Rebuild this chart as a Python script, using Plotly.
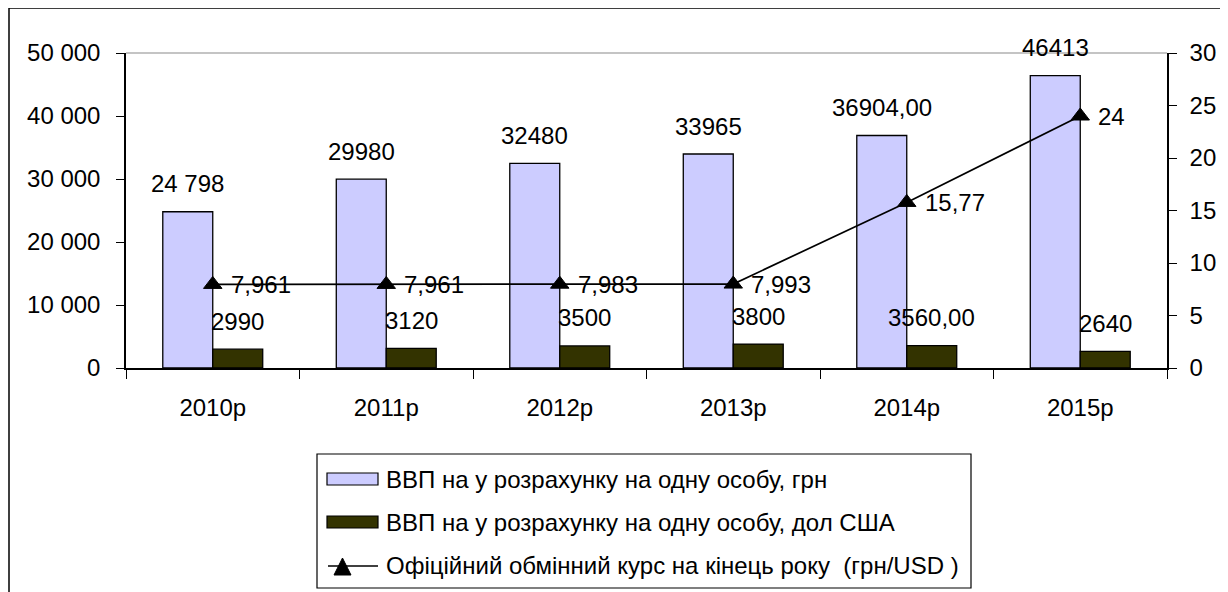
import plotly.graph_objects as go

# ---- data ----
categories = ["2010р", "2011р", "2012р", "2013р", "2014р", "2015р"]
gdp_uah = [24798, 29980, 32480, 33965, 36904, 46413]
gdp_usd = [2990, 3120, 3500, 3800, 3560, 2640]
exchange_rate = [7.961, 7.961, 7.983, 7.993, 15.77, 24]

gdp_uah_labels = ["24 798", "29980", "32480", "33965", "36904,00", "46413"]
gdp_usd_labels = ["2990", "3120", "3500", "3800", "3560,00", "2640"]
rate_labels = ["7,961", "7,961", "7,983", "7,993", "15,77", "24"]

name_uah = "ВВП на у розрахунку на одну особу, грн"
name_usd = "ВВП на у розрахунку на одну особу, дол США"
name_rate = "Офіційний обмінний курс на кінець року  (грн/USD )"

# ---- layout geometry (page pixels; the page body adds an 8px offset) ----
W, H = 1228, 592
OFF = 8
L, R, T, B = 126, 1167, 53, 368
FONT = "Liberation Sans, Arial, sans-serif"
FS = 24
C_UAH = "#CCCCFF"
C_USD = "#333300"
Y1_MAX, Y1_STEP = 50000, 10000
Y2_MAX, Y2_STEP = 30, 5


def px(xp):
    return (xp - L) / (R - L)


def py(yp):
    return (B - yp) / (B - T)


fig = go.Figure()
fig.add_trace(go.Bar(x=categories, y=gdp_uah, name=name_uah,
                     marker=dict(color=C_UAH, line=dict(color="black", width=1.3)),
                     showlegend=False))
fig.add_trace(go.Bar(x=categories, y=gdp_usd, name=name_usd,
                     marker=dict(color=C_USD, line=dict(color="black", width=1.3)),
                     showlegend=False))
fig.add_trace(go.Scatter(x=categories, y=exchange_rate, name=name_rate, yaxis="y2",
                         mode="lines+markers",
                         line=dict(color="black", width=1.7),
                         marker=dict(symbol="triangle-up", size=16, color="black",
                                     line=dict(color="black", width=1)),
                         showlegend=False))

annotations = []
for c, v, t in zip(categories, gdp_uah, gdp_uah_labels):
    annotations.append(dict(x=c, y=v, xref="x", yref="y", text=t, showarrow=False,
                            xshift=-25, yshift=28, yanchor="middle", xanchor="center"))
for c, v, t in zip(categories, gdp_usd, gdp_usd_labels):
    annotations.append(dict(x=c, y=v, xref="x", yref="y", text=t, showarrow=False,
                            xshift=25, yshift=28, yanchor="middle", xanchor="center"))
for c, v, t in zip(categories, exchange_rate, rate_labels):
    annotations.append(dict(x=c, y=v, xref="x", yref="y2", text=t, showarrow=False,
                            xshift=16, yshift=0, yanchor="middle", xanchor="left"))

# ---- manual legend ----
rows = [479, 522, 565]
legend_names = [name_uah, name_usd, name_rate]
for ry, nm in zip(rows, legend_names):
    annotations.append(dict(x=px(384), y=py(ry), xref="paper", yref="paper", text=nm,
                            showarrow=False, xanchor="left", yanchor="middle",
                            font=dict(family=FONT, size=FS, color="black")))

shapes = [
    # outer chart border
    dict(type="rect", xref="paper", yref="paper", x0=px(9), x1=px(1260), y0=py(8), y1=py(640),
         line=dict(color="black", width=1.5), fillcolor="rgba(0,0,0,0)", layer="below"),
    # top plot-area edge
    dict(type="line", xref="paper", yref="paper", x0=0, x1=1, y0=1, y1=1,
         line=dict(color="#8a8a8a", width=1.2)),
    # legend box
    dict(type="rect", xref="paper", yref="paper", x0=px(317), x1=px(971), y0=py(454), y1=py(588),
         line=dict(color="black", width=1.2), fillcolor="white"),
    # legend swatches
    dict(type="rect", xref="paper", yref="paper", x0=px(327), x1=px(378), y0=py(rows[0] - 6),
         y1=py(rows[0] + 6), line=dict(color="black", width=1.2), fillcolor=C_UAH),
    dict(type="rect", xref="paper", yref="paper", x0=px(327), x1=px(378), y0=py(rows[1] - 6),
         y1=py(rows[1] + 6), line=dict(color="black", width=1.2), fillcolor=C_USD),
    dict(type="line", xref="paper", yref="paper", x0=px(328), x1=px(378), y0=py(rows[2] + 1),
         y1=py(rows[2] + 1), line=dict(color="black", width=1.7)),
    dict(type="path", xref="paper", yref="paper",
         path="M %f,%f L %f,%f L %f,%f Z" % (px(334), py(rows[2] + 10), px(351), py(rows[2] + 10),
                                           px(342.5), py(rows[2] - 7)),
         fillcolor="black", line=dict(color="black", width=1)),
]

axis_common = dict(showgrid=False, zeroline=False, showline=True, linecolor="black", linewidth=1.5,
                   ticks="outside", tickcolor="black", tickwidth=1.3,
                   tickfont=dict(family=FONT, size=FS, color="black"))
# inner halves of the crossing tick marks
inner_ticks = dict(showgrid=False, zeroline=False, showline=False, ticks="inside",
                   tickcolor="black", tickwidth=1.3, ticklen=5, showticklabels=False)

fig.update_layout(
    width=W, height=H,
    margin=dict(l=L - OFF, r=W - (R - OFF), t=T - OFF, b=H - (B - OFF), pad=0),
    paper_bgcolor="white", plot_bgcolor="white",
    font=dict(family=FONT, size=FS, color="black"),
    separators=", ",
    barmode="group", bargap=0.424, bargroupgap=0,
    xaxis=dict(type="category", range=[-0.5, 5.5], tickson="boundaries", ticklen=9,
               ticklabelstandoff=17, **axis_common),
    yaxis=dict(range=[0, Y1_MAX], dtick=Y1_STEP, tickformat=",d", ticklen=8,
               ticklabelstandoff=11, **axis_common),
    yaxis2=dict(range=[0, Y2_MAX], dtick=Y2_STEP, overlaying="y", side="right", ticklen=8,
                ticklabelstandoff=8, **axis_common),
    xaxis2=dict(overlaying="x", anchor="y", side="bottom", range=[-0.5, 5.5],
                tickvals=[i + 0.5 for i in range(len(categories) - 1)], **inner_ticks),
    yaxis3=dict(overlaying="y", anchor="x", side="left", range=[0, Y1_MAX], dtick=Y1_STEP,
                **inner_ticks),
    yaxis4=dict(overlaying="y", anchor="x", side="right", range=[0, Y2_MAX], dtick=Y2_STEP,
                **inner_ticks),
    annotations=annotations,
    shapes=shapes,
    showlegend=False,
)

fig.write_html("out.html")
